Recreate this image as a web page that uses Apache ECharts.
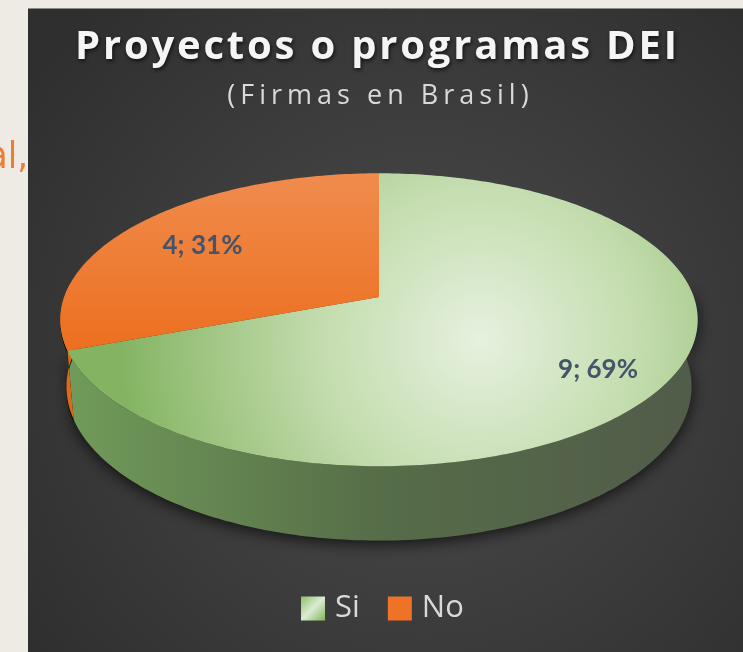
<!DOCTYPE html>
<html>
<head>
<meta charset="utf-8">
<script src="https://cdn.jsdelivr.net/npm/echarts@6/dist/echarts.min.js"></script>
<style>
  html, body { margin: 0; padding: 0; background: #eeebe4; }
  #chart { width: 743px; height: 652px; }
</style>
</head>
<body>
<div id="chart"></div>
<script>
// datos
const categories = ['Si', 'No']
const counts = [9, 4]
const titleText = 'Proyectos o programas DEI'
const subtitleText = '(Firmas en Brasil)'

const total = counts.reduce((a, b) => a + b, 0)

// proyeccion 3D simple (perspectiva)
const CX = 379, CY = 297, F = 1805, D = 5.734
const SA = 0.454, CA = 0.891, H = 0.2405

const proj = (phiDeg, r, h) => {
    const p = phiDeg * Math.PI / 180
    const u = r * Math.sin(p)
    const v = -r * Math.cos(p)
    const Y = v * SA + h * CA
    const Z = D - v * CA + h * SA
    return [CX + F * u / Z, CY + F * Y / Z]
}

const arc = (a, b, h) => {
    const pts = []
    const n = Math.max(2, Math.ceil(Math.abs(b - a)))
    for (let k = 0; k <= n; k++) pts.push(proj(a + (b - a) * k / n, 1, h))
    return pts
}

// espaciado entre letras con rich text
const spaced = (str) => str.split('').map(ch => '{s|' + ch + '}').join('')

const topColors = [
    new echarts.graphic.RadialGradient(480, 340, 360, [
        { offset: 0, color: '#e6f1df' },
        { offset: 0.45, color: '#c3dcad' },
        { offset: 1, color: '#84b462' }
    ], true),
    new echarts.graphic.LinearGradient(0, 170, 0, 350, [
        { offset: 0, color: '#f08c4e' },
        { offset: 1, color: '#ec6f1f' }
    ], true)
]
const sideColors = [
    new echarts.graphic.LinearGradient(60, 0, 700, 0, [
        { offset: 0, color: '#719c5a' },
        { offset: 0.5, color: '#566d48' },
        { offset: 1, color: '#515b4a' }
    ], true),
    '#dc6a1c'
]

const makeRender = (i) => (params, api) => {
    const start = counts.slice(0, i).reduce((a, b) => a + b, 0) / total * 360
    const end = start + api.value(0) / total * 360
    const children = []
    // pared lateral (solo la parte frontal)
    const a = Math.max(start, 85), b = Math.min(end, 275)
    if (b > a) {
        const topRim = arc(a, b, 0)
        const botRim = arc(b, a, H)
        children.push({
            type: 'polygon',
            z2: 1,
            shape: { points: topRim.concat(botRim) },
            style: {
                fill: sideColors[i],
                shadowBlur: i === 0 ? 16 : 0,
                shadowColor: 'rgba(0,0,0,0.75)',
                shadowOffsetY: 3
            }
        })
    }
    // cara superior
    children.push({
        type: 'polygon',
        z2: 5,
        shape: { points: [proj(0, 0, 0)].concat(arc(start, end, 0)) },
        style: { fill: topColors[i] }
    })
    // etiqueta
    const mid = (start + end) / 2
    const lp = proj(mid, 0.76, 0)
    const pct = Math.round(api.value(0) / total * 100)
    children.push({
        type: 'text',
        z2: 10,
        x: lp[0] + 8,
        y: lp[1] + 6,
        style: {
            text: api.value(0) + '; ' + pct + '%',
            fill: '#44546a',
            font: 'bold 26px Lato',
            align: 'center',
            verticalAlign: 'middle'
        }
    })
    return { type: 'group', children: children }
}

const chart = echarts.init(document.getElementById('chart'))
const option = {
    backgroundColor: '#eeebe4',
    animation: false,
    graphic: [
        {
            type: 'text',
            z: 0,
            x: 28,
            y: 158,
            style: {
                text: 'al,',
                fill: '#ef7d31',
                font: '38px "Liberation Sans Narrow", "DejaVu Sans Condensed"',
                align: 'right',
                verticalAlign: 'middle'
            }
        },
        {
            type: 'rect',
            z: 0,
            shape: { x: 28, y: 8, width: 715, height: 644 },
            style: {
                fill: new echarts.graphic.RadialGradient(0.55, 0.55, 0.75, [
                    { offset: 0, color: '#4c4c4c' },
                    { offset: 1, color: '#2f2f2f' }
                ])
            }
        },
        {
            type: 'line',
            z: 1,
            shape: { x1: 28, y1: 8.5, x2: 743, y2: 8.5 },
            style: { stroke: '#8e8b84', lineWidth: 1 }
        }
    ],
    title: [
        {
            text: spaced(titleText),
            left: 371,
            top: 23,
            textAlign: 'center',
            textStyle: {
                rich: {
                    s: {
                        color: '#f5f5f5',
                        fontFamily: 'Open Sans',
                        fontWeight: 'bold',
                        fontSize: 40,
                        padding: [0, 1.4, 0, 1.4],
                        textShadowColor: 'rgba(0,0,0,0.7)',
                        textShadowBlur: 4,
                        textShadowOffsetX: 1,
                        textShadowOffsetY: 2
                    }
                }
            }
        },
        {
            text: spaced(subtitleText),
            left: 373,
            top: 78,
            textAlign: 'center',
            textStyle: {
                rich: {
                    s: {
                        color: '#d9d9d9',
                        fontFamily: 'Open Sans',
                        fontWeight: 'normal',
                        fontSize: 27,
                        padding: [0, 2.5, 0, 2.5]
                    }
                }
            }
        }
    ],
    legend: {
        left: 296,
        top: 588,
        itemWidth: 24,
        itemHeight: 24,
        itemGap: 28,
        icon: 'rect',
        textStyle: { color: '#d9d9d9', fontSize: 31, fontFamily: 'Open Sans', padding: [0, 0, 0, 5] },
        data: [
            {
                name: categories[0],
                itemStyle: {
                    color: new echarts.graphic.LinearGradient(0, 0, 1, 1, [
                        { offset: 0, color: '#8cc06a' },
                        { offset: 0.5, color: '#dcecd2' },
                        { offset: 1, color: '#7fb35c' }
                    ])
                }
            },
            { name: categories[1], itemStyle: { color: '#ee7326' } }
        ]
    },
    series: categories.map((name, i) => ({
        type: 'custom',
        name: name,
        coordinateSystem: 'none',
        itemStyle: { color: i === 0 ? '#a9d18e' : '#ee7326' },
        data: [[counts[i]]],
        renderItem: makeRender(i)
    }))
}
chart.setOption(option)
</script>
</body>
</html>
